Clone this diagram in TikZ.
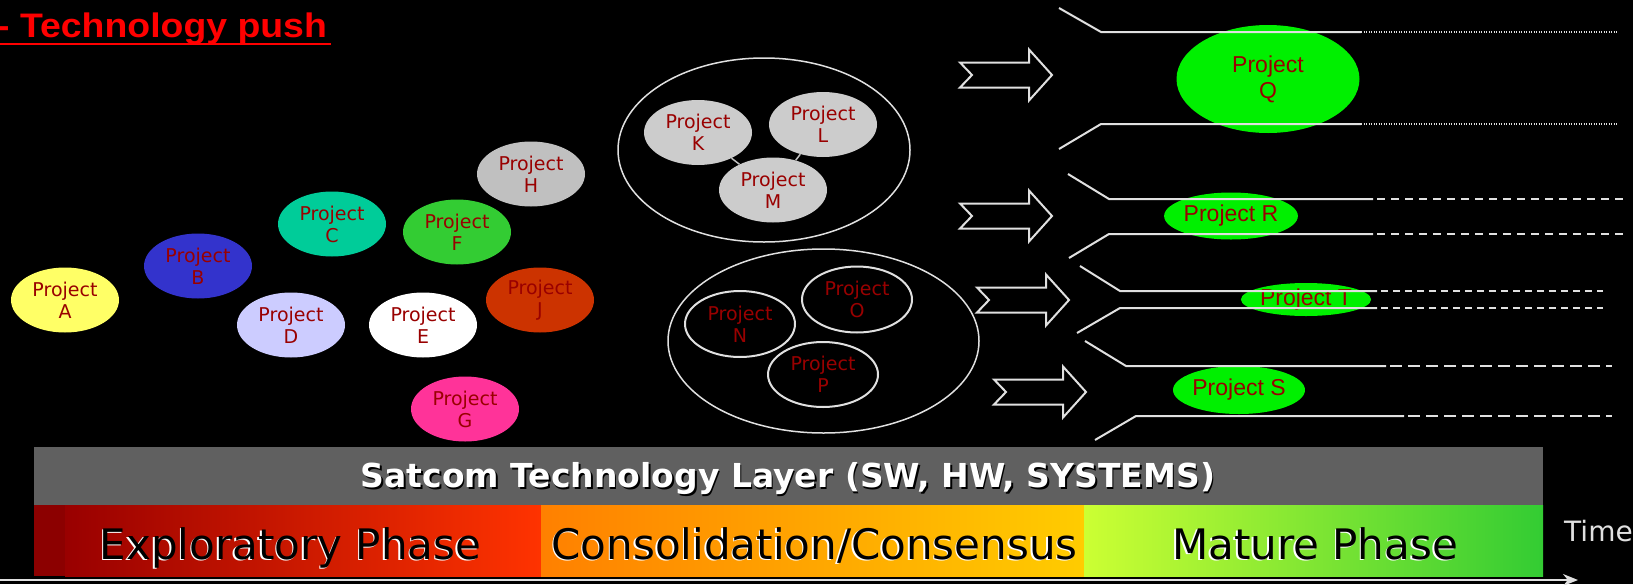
\documentclass[tikz,border=0pt]{standalone}
\usepackage{fontspec}
\setmainfont{DejaVu Sans}
\newfontfamily\arialf{Liberation Sans}
\usetikzlibrary{shapes.geometric,arrows.meta}
\definecolor{txtred}{HTML}{990000}
\definecolor{lineg}{HTML}{E0E0E0}
\definecolor{cA}{HTML}{FFFF66}
\definecolor{cB}{HTML}{3333CC}
\definecolor{cC}{HTML}{00CC99}
\definecolor{cD}{HTML}{CCCCFF}
\definecolor{cF}{HTML}{33CC33}
\definecolor{cG}{HTML}{FF3399}
\definecolor{cH}{HTML}{C0C0C0}
\definecolor{cJ}{HTML}{CC3300}
\definecolor{cK}{HTML}{CCCCCC}
\definecolor{lime}{HTML}{00F000}
\definecolor{bandgray}{HTML}{606060}
\tikzset{
  proj/.style={ellipse, minimum width=108pt, minimum height=65pt, inner sep=0pt,
    font=\fontsize{19}{22}\selectfont, text=txtred, align=center},
  ringproj/.style={proj, fill=black, draw=lineg, line width=2pt},
  group/.style={ellipse, draw=lineg, line width=1.5pt, inner sep=0pt},
  matproj/.style={ellipse, fill=lime, inner sep=0pt, text=txtred, align=center,
    font=\arialf\fontsize{23}{26}\selectfont},
  funnel/.style={draw=lineg, line width=2pt},
  arrowline/.style={draw=lineg, line width=2pt, line join=miter},
  linkline/.style={draw=cH, line width=1.5pt},
  phasetext/.style={font=\fontsize{42}{48}\selectfont, anchor=base},
  layertext/.style={font=\bfseries\fontsize{33}{38}\selectfont},
  blockarrow/.pic={\draw[arrowline] (0,-12.5) -- (69,-12.5) -- (69,-25.5) -- (92,0) -- (69,25.5) -- (69,12.5) -- (0,12.5) -- (12,0) -- cycle;}
}
\begin{document}
\begin{tikzpicture}[x=1pt,y=-1pt]
\useasboundingbox[fill=black] (0,0) rectangle (1633,584);

% title
\node[anchor=base west, inner sep=0pt, text=red, font=\arialf\bfseries\fontsize{34}{40}\selectfont] (title) at (-3,37) {\scalebox{1.1}[1]{- Technology push}};
\draw[red, line width=2.5pt] (0,44) -- (331,44);

% exploratory projects
\node[proj, fill=cA] (A) at (65,300) {Project\\A};
\node[proj, fill=cB] (B) at (198,266) {Project\\B};
\node[proj, fill=cC] (C) at (332,224) {Project\\C};
\node[proj, fill=cD] (D) at (291,325) {Project\\D};
\node[proj, fill=white] (E) at (423,325) {Project\\E};
\node[proj, fill=cF] (F) at (457,232) {Project\\F};
\node[proj, fill=cG] (G) at (465,409) {Project\\G};
\node[proj, fill=cH] (H) at (531,174) {Project\\H};
\node[proj, fill=cJ] (J) at (540,300) {Project\\J};

% consolidation groups
\node[group, minimum width=292pt, minimum height=184pt] (grp1) at (764,150) {};
\node[proj, fill=cK] (K) at (698,132.5) {Project\\K};
\node[proj, fill=cK] (L) at (823,124.5) {Project\\L};
\node[proj, fill=cK] (M) at (773,190) {Project\\M};
\draw[linkline] (K) -- (M);
\draw[linkline] (L) -- (M);

\node[group, minimum width=311pt, minimum height=184pt] (grp2) at (823.5,341) {};
\node[ringproj, minimum width=110pt, minimum height=66pt] (N) at (740,324) {Project\\N};
\node[ringproj, minimum width=110pt, minimum height=66pt] (O) at (857,299.5) {Project\\O};
\node[ringproj, minimum width=110pt, minimum height=65pt] (P) at (823,374.5) {Project\\P};

% block arrows
\pic at (960,75) {blockarrow};
\pic at (960,216) {blockarrow};
\pic at (977,300) {blockarrow};
\pic at (994,392) {blockarrow};

% mature projects
\node[matproj, minimum width=183pt, minimum height=108pt] (Q) at (1268,79) {Project\\Q};
\node[matproj, minimum width=124pt, minimum height=47pt] (R) at (1231,216) {Project R};
\node[matproj, minimum width=124pt, minimum height=33pt] (T) at (1306,299.5) {Project T};
\node[matproj, minimum width=124pt, minimum height=48pt] (S) at (1239,390) {Project S};

% funnels
\draw[funnel] (1059,8) -- (1101,32) -- (1361,32);
\draw[funnel, line width=1.5pt, dash pattern=on 1.2pt off 1.3pt] (1361,32) -- (1617,32);
\draw[funnel] (1059,149) -- (1101,124) -- (1361,124);
\draw[funnel, line width=1.5pt, dash pattern=on 1.2pt off 1.3pt] (1361,124) -- (1617,124);

\draw[funnel] (1068,174) -- (1109,199) -- (1373,199);
\draw[funnel, dash pattern=on 8pt off 6pt] (1377,199) -- (1625,199);
\draw[funnel] (1069,258) -- (1109,234) -- (1373,234);
\draw[funnel, dash pattern=on 8pt off 6pt] (1377,234) -- (1627,234);

\draw[funnel] (1080,266) -- (1120,291) -- (1377,291);
\draw[funnel, dash pattern=on 7pt off 5pt] (1381,291) -- (1603,291);
\draw[funnel] (1077,333) -- (1120,308) -- (1377,308);
\draw[funnel, dash pattern=on 7pt off 5pt] (1381,308) -- (1603,308);

\draw[funnel] (1085,341) -- (1126,366) -- (1386,366);
\draw[funnel, dash pattern=on 12pt off 6pt] (1390,366) -- (1612,366);
\draw[funnel] (1095,440) -- (1136,416) -- (1404,416);
\draw[funnel, dash pattern=on 12pt off 6pt] (1408,416) -- (1612,416);

% technology layer band
\fill[bandgray] (34,447) rectangle (1543,505);
\fill[black!45!red] (34,505) rectangle (65,576);
\shade[left color=txtred, right color={rgb,255:red,255;green,51;blue,0}] (65,505) rectangle (541,576);
\shade[left color={rgb,255:red,255;green,128;blue,0}, right color={rgb,255:red,255;green,204;blue,0}] (541,505) rectangle (1084,576);
\shade[left color={rgb,255:red,204;green,255;blue,51}, right color={rgb,255:red,51;green,204;blue,51}] (1084,505) rectangle (1543,576);

\node[layertext, text=black] (satcomsh) at (789.5,480.5) {Satcom Technology Layer (SW, HW, SYSTEMS)};
\node[layertext, text=white] (satcom) at (788,479) {Satcom Technology Layer (SW, HW, SYSTEMS)};

\node[phasetext, text=white] (ph1s) at (289,560.5) {Exploratory Phase};
\node[phasetext, text=black] (ph1) at (290.5,559) {Exploratory Phase};
\node[phasetext, text=white] (ph2s) at (813,560.5) {Consolidation/Consensus};
\node[phasetext, text=black] (ph2) at (814.5,559) {Consolidation/Consensus};
\node[phasetext, text=white] (ph3s) at (1313.5,560.5) {Mature Phase};
\node[phasetext, text=black] (ph3) at (1315,559) {Mature Phase};

% time axis
\coordinate (t0) at (0,580);
\coordinate (t1) at (1578,580);
\draw[lineg, line width=2pt, -{Stealth[length=15pt,width=12pt]}] (t0) -- (t1);
\node[anchor=base west, inner sep=0pt, text=lineg, font=\fontsize{28}{32}\selectfont] (time) at (1564,541) {Time};
\end{tikzpicture}
\end{document}
